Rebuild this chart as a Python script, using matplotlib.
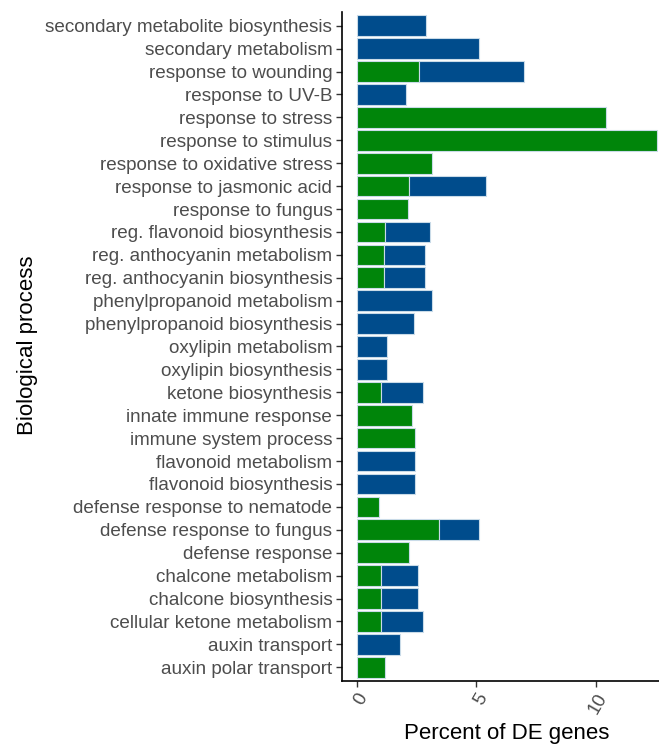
import numpy as np
import matplotlib
matplotlib.use("Agg")
import matplotlib.pyplot as plt

# categories listed top to bottom as in the figure
processes = [
    "secondary metabolite biosynthesis", "secondary metabolism", "response to wounding",
    "response to UV-B", "response to stress", "response to stimulus",
    "response to oxidative stress", "response to jasmonic acid", "response to fungus",
    "reg. flavonoid biosynthesis", "reg. anthocyanin metabolism", "reg. anthocyanin biosynthesis",
    "phenylpropanoid metabolism", "phenylpropanoid biosynthesis", "oxylipin metabolism",
    "oxylipin biosynthesis", "ketone biosynthesis", "innate immune response",
    "immune system process", "flavonoid metabolism", "flavonoid biosynthesis",
    "defense response to nematode", "defense response to fungus", "defense response",
    "chalcone metabolism", "chalcone biosynthesis", "cellular ketone metabolism",
    "auxin transport", "auxin polar transport",
]
green_pct = [0, 0, 2.59, 0, 10.45, 12.58, 3.15, 2.20, 2.15, 1.19, 1.13, 1.13,
             0, 0, 0, 0, 1.00, 2.33, 2.45, 0, 0, 0.93, 3.43, 2.20, 1.00, 1.00, 1.00,
             0, 1.19]
blue_pct = [2.90, 5.12, 4.43, 2.08, 0, 0, 0, 3.23, 0, 1.89, 1.72, 1.72,
            3.17, 2.40, 1.26, 1.26, 1.79, 0, 0, 2.45, 2.45, 0, 1.70, 0, 1.58, 1.58, 1.79,
            1.83, 0]
x_ticks = [0, 5, 10]

plt.rcParams["font.family"] = ["Liberation Sans", "DejaVu Sans"]

W, H = 659, 746
fig = plt.figure(figsize=(W / 100, H / 100), dpi=100)
# axes right edge goes past the figure, the original is cropped there
ax = fig.add_axes([342 / W, 1 - 681 / H, (672 - 342) / W, (681 - 12) / H])

y = np.arange(len(processes))
green = np.array(green_pct)
blue = np.array(blue_pct)
edge = "#c9dbe8"
ax.barh(y, green, height=0.9, color="#00850a", edgecolor=edge, linewidth=0.8)
ax.barh(y, blue, left=green, height=0.9, color="#004c8c", edgecolor=edge, linewidth=0.8)
# hide outline of zero-width segments
for p in ax.patches:
    if p.get_width() == 0:
        p.set_visible(False)

ax.set_ylim(len(processes) - 0.4, -0.6)
ax.set_xlim(-0.615, 13.2)
ax.set_yticks(y)
ax.set_yticklabels(processes, fontsize=13.6, color="#4d4d4d")
ax.set_xticks(x_ticks)
ax.set_xticklabels([str(t) for t in x_ticks], fontsize=13.6, color="#4d4d4d",
                   rotation=60, ha="right", va="top", rotation_mode="anchor")
ax.tick_params(axis="both", length=4, width=1, color="#333333", pad=3)

for side in ["top", "right"]:
    ax.spines[side].set_visible(False)
for side in ["left", "bottom"]:
    ax.spines[side].set_linewidth(1.2)
    ax.spines[side].set_color("black")

fig.text(28 / W, 1 - 345 / H, "Biological process", rotation=90, fontsize=16,
         ha="center", va="center")
fig.text(507 / W, 1 - 733 / H, "Percent of DE genes", fontsize=16,
         ha="center", va="center")

fig.savefig("out.png", dpi=100)
